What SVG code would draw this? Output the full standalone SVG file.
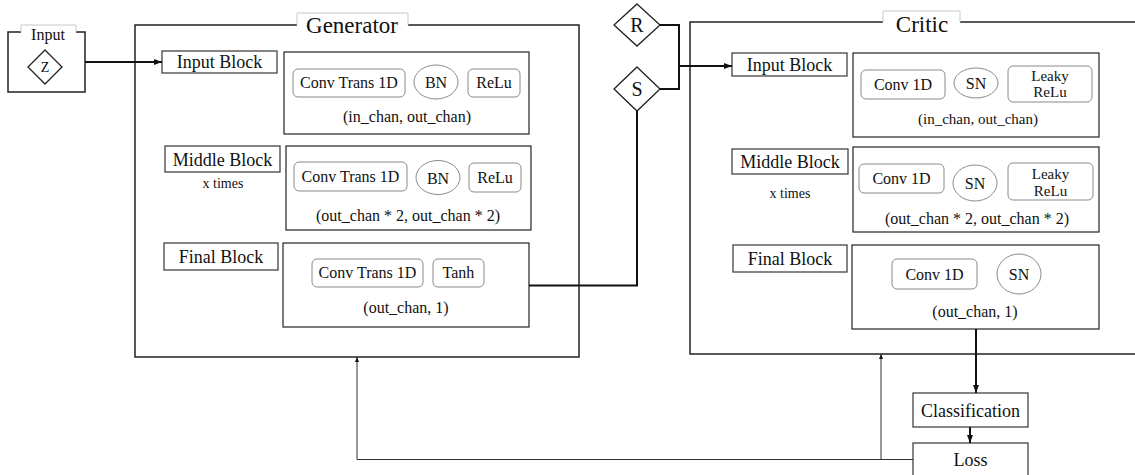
<svg xmlns="http://www.w3.org/2000/svg" width="1135" height="475" viewBox="0 0 1135 475">
<style>
text{font-family:'Liberation Serif','Times New Roman',Tinos,'DejaVu Serif',serif;fill:#111;text-anchor:middle}
.frame{fill:none;stroke:#222;stroke-width:1.5}
.tab{fill:none;stroke:#c8c8c8;stroke-width:1}
.lbl{fill:#fff;stroke:#444;stroke-width:1.3}
.cont{fill:#fff;stroke:#222;stroke-width:1.2}
.comp{fill:#fff;stroke:#8a8a8a;stroke-width:1}
.dia{fill:#fff;stroke:#222;stroke-width:1.3}
.t16{font-size:16px}
.t18{font-size:18px}
.t15{font-size:15px}
.t14{font-size:14px}
.conn{fill:none;stroke:#111;stroke-width:2}
.thin{fill:none;stroke:#333;stroke-width:1}
</style>
<defs>
<marker id="ah" markerUnits="userSpaceOnUse" markerWidth="8" markerHeight="6" refX="8" refY="3" orient="auto"><path d="M0,0 L8,3 L0,6 Z" fill="#111"/></marker>
<marker id="ahs" markerUnits="userSpaceOnUse" markerWidth="5" markerHeight="4" refX="5" refY="2" orient="auto"><path d="M0,0 L5,2 L0,4 Z" fill="#111"/></marker>
</defs>
<rect width="1135" height="475" fill="#fff"/>
<g font-family="Liberation Serif, Times New Roman, serif">
<g id="input">
<path class="frame" d="M21,32 H8 V92 H85 V32 H76"/>
<path class="tab" d="M21,32 V25 H76 V32"/>
<text class="t16" x="48" y="40">Input</text>
<polygon class="dia" points="45,50 62,67 45,84 28,67"/>
<text class="t14" x="45" y="72">Z</text>
</g>

<g id="generator">
<path class="frame" d="M297,25 H135 V357 H579 V25 H408"/>
<path class="tab" d="M297,25 V13 H408 V25"/>
<text x="352" y="33" style="font-size:23px">Generator</text>
</g>

<g id="gen-input-block">
<rect class="lbl" x="162" y="51" width="115" height="22"/>
<text class="t18" x="219.5" y="68">Input Block</text>
<rect class="cont" x="284" y="52" width="245" height="82"/>
<rect class="comp" x="293" y="69" width="112" height="28" rx="5"/>
<text class="t16" x="349" y="88">Conv Trans 1D</text>
<ellipse class="comp" cx="436" cy="82" rx="22" ry="17"/>
<text class="t16" x="436" y="88">BN</text>
<rect class="comp" x="468" y="69" width="52" height="28" rx="5"/>
<text class="t16" x="494" y="88">ReLu</text>
<text class="t16" x="407" y="122">(in_chan, out_chan)</text>
</g>

<g id="gen-middle-block">
<rect class="lbl" x="165" y="146" width="115" height="26"/>
<text class="t18" x="222.5" y="166">Middle Block</text>
<text class="t14" x="223" y="188">x times</text>
<rect class="cont" x="286" y="146" width="245" height="84"/>
<rect class="comp" x="294" y="162" width="113" height="29" rx="5"/>
<text class="t16" x="350.5" y="182">Conv Trans 1D</text>
<ellipse class="comp" cx="438" cy="177.5" rx="22" ry="17"/>
<text class="t16" x="438" y="184">BN</text>
<rect class="comp" x="469" y="163" width="52" height="29" rx="5"/>
<text class="t16" x="495" y="183">ReLu</text>
<text class="t16" x="408" y="221">(out_chan * 2, out_chan * 2)</text>
</g>

<g id="gen-final-block">
<rect class="lbl" x="164" y="243" width="114" height="27"/>
<text class="t18" x="221" y="263">Final Block</text>
<rect class="cont" x="283" y="243" width="246" height="84"/>
<rect class="comp" x="312" y="259" width="111" height="28" rx="5"/>
<text class="t16" x="367.5" y="278">Conv Trans 1D</text>
<rect class="comp" x="433" y="259" width="51" height="28" rx="5"/>
<text class="t16" x="458.5" y="278">Tanh</text>
<text class="t16" x="406" y="313">(out_chan, 1)</text>
</g>

<g id="R">
<polygon class="dia" points="637,4 660,25 637,46 614,25"/>
<text x="637" y="32" style="font-size:20px">R</text>
</g>
<g id="S">
<polygon class="dia" points="637,67 660,89 637,111 614,89"/>
<text x="637" y="96" style="font-size:20px">S</text>
</g>

<g id="critic">
<path class="frame" d="M883,22 H690 V354 H1136 M1136,22 H960"/>
<path class="tab" d="M883,22 V11 H960 V22"/>
<text x="922" y="32" style="font-size:23px">Critic</text>
</g>

<g id="critic-input-block">
<rect class="lbl" x="732" y="53" width="115" height="23"/>
<text class="t18" x="789.5" y="71">Input Block</text>
<rect class="cont" x="853" y="53" width="246" height="84"/>
<rect class="comp" x="861" y="70" width="84" height="29" rx="5"/>
<text class="t16" x="903" y="90">Conv 1D</text>
<ellipse class="comp" cx="976" cy="83" rx="22" ry="15"/>
<text class="t16" x="976" y="89">SN</text>
<rect class="comp" x="1008" y="66" width="84" height="36" rx="5"/>
<text class="t15" x="1050" y="81">Leaky</text>
<text class="t15" x="1050" y="97">ReLu</text>
<text class="t15" x="978" y="124">(in_chan, out_chan)</text>
</g>

<g id="critic-middle-block">
<rect class="lbl" x="732" y="149" width="116" height="25"/>
<text class="t18" x="790" y="168">Middle Block</text>
<text class="t14" x="790" y="198">x times</text>
<rect class="cont" x="853" y="147" width="246" height="85"/>
<rect class="comp" x="859" y="164" width="85" height="29" rx="5"/>
<text class="t16" x="901.5" y="184">Conv 1D</text>
<ellipse class="comp" cx="975" cy="183" rx="22" ry="18"/>
<text class="t16" x="975" y="189">SN</text>
<rect class="comp" x="1008" y="163" width="85" height="37" rx="5"/>
<text class="t15" x="1050.5" y="179">Leaky</text>
<text class="t15" x="1050.5" y="196">ReLu</text>
<text class="t16" x="977" y="224">(out_chan * 2, out_chan * 2)</text>
</g>

<g id="critic-final-block">
<rect class="lbl" x="733" y="245" width="114" height="27"/>
<text class="t18" x="790" y="265">Final Block</text>
<rect class="cont" x="852" y="245" width="247" height="84"/>
<rect class="comp" x="892" y="259" width="85" height="30" rx="5"/>
<text class="t16" x="934.5" y="280">Conv 1D</text>
<ellipse class="comp" cx="1019" cy="274" rx="22" ry="20"/>
<text class="t16" x="1019" y="280">SN</text>
<text class="t16" x="975" y="317">(out_chan, 1)</text>
</g>

<g id="classification">
<rect class="lbl" x="913" y="393" width="115" height="34"/>
<text class="t18" x="970.5" y="417">Classification</text>
</g>
<g id="loss">
<rect class="lbl" x="913" y="443" width="115" height="40"/>
<text class="t18" x="970.5" y="466">Loss</text>
</g>
</g>
<g id="connectors">
<path class="conn" d="M85,62 H162" marker-end="url(#ah)"/>
<path class="conn" d="M529,285.5 H637 V111"/>
<path class="conn" d="M660,25 H679 V89 H660"/>
<path class="conn" d="M679,66 H732" marker-end="url(#ah)"/>
<path class="conn" d="M976,329 V393" marker-end="url(#ah)"/>
<path class="conn" d="M970,427 V443" marker-end="url(#ah)"/>
<path class="thin" d="M913,459.5 H357 V357" marker-end="url(#ahs)"/>
<path class="thin" d="M881,459.5 V354" marker-end="url(#ahs)"/>
</g>
</svg>
